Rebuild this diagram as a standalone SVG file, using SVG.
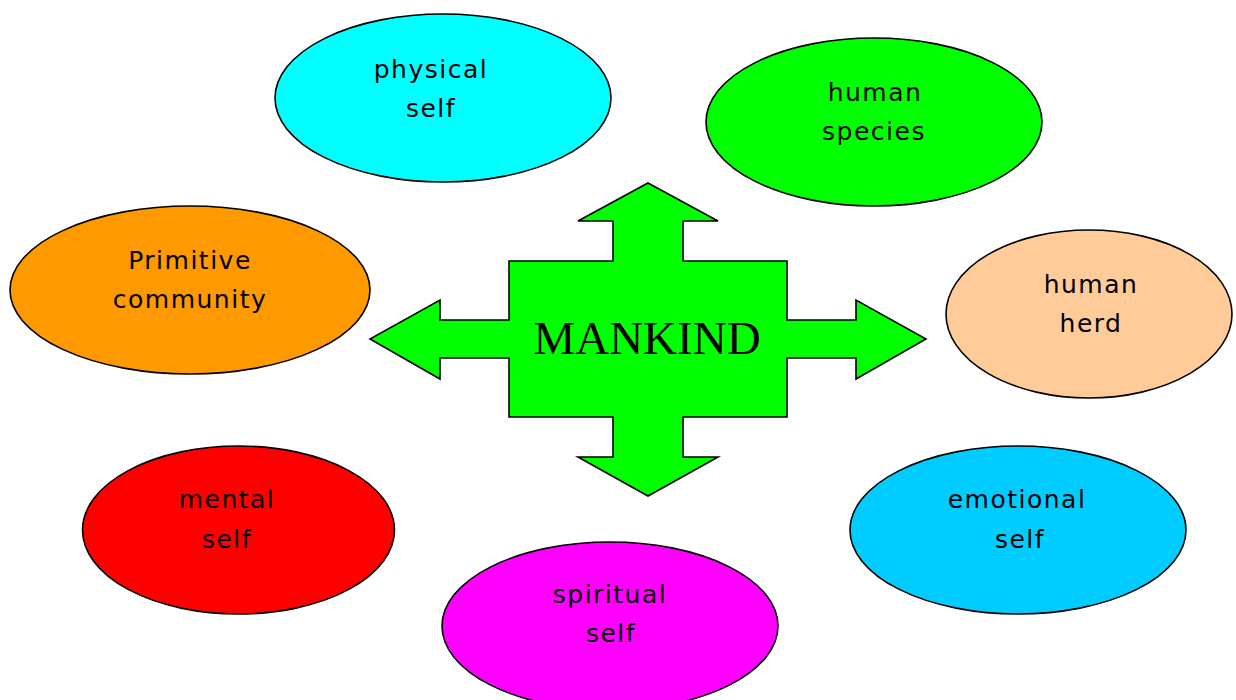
<svg xmlns="http://www.w3.org/2000/svg" width="1236" height="700" viewBox="0 0 1236 700">
<style>
.node ellipse{stroke:#000;stroke-width:1.6}
.lbl{font-family:"DejaVu Sans",sans-serif;font-size:25px;fill:#000;text-anchor:middle;letter-spacing:1.5px}
.center{font-family:"Liberation Serif",serif;font-size:47px;fill:#000;text-anchor:middle}
</style>
<rect width="1236" height="700" fill="#fff"/>
<g id="connectors">
<polygon id="cross-arrow" fill="#00FF00" stroke="#000" stroke-width="1.6" points="648,183 718,221 683,221 683,261 787,261 787,320 856,320 856,300 926,339 856,379 856,358 787,358 787,417 683,417 683,457 718,457 648,496 578,457 613,457 613,417 509,417 509,358 440,358 440,379 370,339 440,300 440,320 509,320 509,261 613,261 613,221 578,221"/>
</g>
<g id="mankind" class="node">
<text class="center" x="647" y="354">MANKIND</text>
</g>
<g id="physical-self" class="node">
<ellipse cx="443" cy="98" rx="168" ry="84" fill="#00FFFF"/>
<text class="lbl" x="431" y="78">physical</text>
<text class="lbl" x="431" y="117">self</text>
</g>
<g id="human-species" class="node">
<ellipse cx="874" cy="122" rx="168" ry="84" fill="#00FF00"/>
<text class="lbl" x="875" y="101">human</text>
<text class="lbl" x="874" y="140">species</text>
</g>
<g id="primitive-community" class="node">
<ellipse cx="190" cy="290" rx="180" ry="84" fill="#FF9900"/>
<text class="lbl" x="190" y="269">Primitive</text>
<text class="lbl" x="190" y="308">community</text>
</g>
<g id="human-herd" class="node">
<ellipse cx="1089" cy="314" rx="143" ry="84" fill="#FFCC99"/>
<text class="lbl" x="1091" y="293">human</text>
<text class="lbl" x="1091" y="332">herd</text>
</g>
<g id="mental-self" class="node">
<ellipse cx="238.5" cy="530" rx="156" ry="84" fill="#FF0000"/>
<text class="lbl" x="227" y="508">mental</text>
<text class="lbl" x="227" y="548">self</text>
</g>
<g id="spiritual-self" class="node">
<ellipse cx="610" cy="626" rx="168" ry="84" fill="#FF00FF"/>
<text class="lbl" x="610" y="603">spiritual</text>
<text class="lbl" x="611" y="642">self</text>
</g>
<g id="emotional-self" class="node">
<ellipse cx="1018" cy="530" rx="168" ry="84" fill="#00CCFF"/>
<text class="lbl" x="1017" y="508">emotional</text>
<text class="lbl" x="1020" y="548">self</text>
</g>
</svg>
